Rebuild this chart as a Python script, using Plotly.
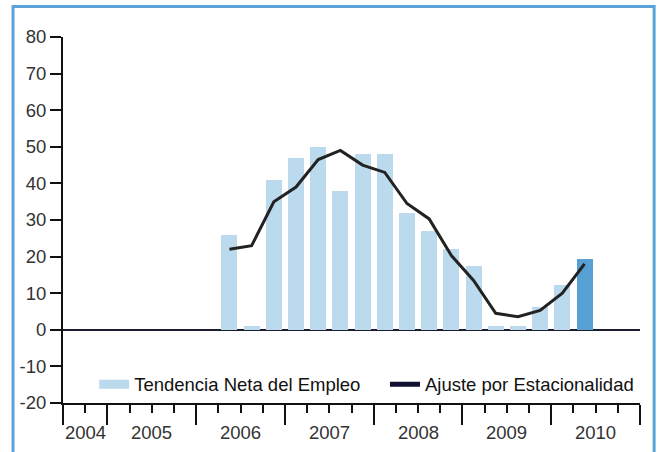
import plotly.graph_objects as go

# quarterly survey results, 2006 T2 .. 2010 T2
years = [2006, 2006, 2006,
         2007, 2007, 2007, 2007,
         2008, 2008, 2008, 2008,
         2009, 2009, 2009, 2009,
         2010, 2010]
quarters = [2, 3, 4,
            1, 2, 3, 4,
            1, 2, 3, 4,
            1, 2, 3, 4,
            1, 2]
tendencia = [26, 1, 41,
             47, 50, 38, 48,
             48, 32, 27, 22,
             17.5, 1, 1, 6.3,
             12.3, 19.4]
ajuste = [22, 23, 35,
          39, 46.5, 49, 45,
          43, 34.5, 30.3, 20.3,
          13.5, 4.5, 3.6, 5.3,
          10, 18]
year_labels = ["2004", "2005", "2006", "2007", "2008", "2009", "2010"]
y_ticks = [-20, -10, 0, 10, 20, 30, 40, 50, 60, 70, 80]
y_tick_text = ["-20", "-10", "0", "10", "20", "30", "40", "50", "60", "70", "80"]

FIRST_Q = 2004 * 4 + 2  # axis starts at 2004 T3


def qpos(y, q):
    # centre of a quarter on the axis, one unit per quarter
    return y * 4 + (q - 1) - FIRST_Q + 0.5


xs = [qpos(y, q) for y, q in zip(years, quarters)]
bar_colors = ["#bcdaee"] * (len(xs) - 1) + ["#56a0d4"]

# year boundaries and label centres
bounds = [0] + [(int(y) * 4) - FIRST_Q for y in year_labels[1:]] + [(2011 * 4) - FIRST_Q]
centres = [(a + b) / 2 for a, b in zip(bounds[:-1], bounds[1:])]

FONT = "Liberation Sans, Arial, sans-serif"
FS = 18.5

fig = go.Figure()
fig.add_trace(go.Bar(
    x=xs, y=tendencia, width=0.72,
    marker=dict(color=bar_colors, line=dict(width=0)),
    showlegend=False,
))
fig.add_trace(go.Scatter(
    x=xs, y=ajuste, mode="lines",
    line=dict(color="#222222", width=3),
    showlegend=False,
))
# legend swatches (flat block / thick line like the original), one legend each
fig.add_trace(go.Scatter(
    x=[None], y=[None], mode="lines",
    line=dict(color="#bcdaee", width=9),
    name="Tendencia Neta del Empleo", legend="legend",
))
fig.add_trace(go.Scatter(
    x=[None], y=[None], mode="lines",
    line=dict(color="#101030", width=5),
    name="Ajuste por Estacionalidad", legend="legend2",
))

for lab, c in zip(year_labels, centres):
    fig.add_annotation(
        x=c, y=0, xref="x", yref="paper", text=lab, showarrow=False,
        yanchor="middle", yshift=-29, font=dict(size=FS, color="#333333", family=FONT),
    )

# outer blue frame
fig.add_shape(
    type="rect", xref="paper", yref="paper",
    x0=-0.0866, x1=1.0245, y0=-0.3, y1=1.083,
    line=dict(color="#5ba3da", width=3),
)

leg = dict(
    orientation="h", y=0.05, xanchor="left", yanchor="middle",
    bgcolor="rgba(0,0,0,0)", font=dict(size=FS, color="#111111"),
    itemwidth=30,
)

fig.update_layout(
    width=659, height=452,
    margin=dict(l=63, r=19, t=37, b=49, autoexpand=False),
    paper_bgcolor="white", plot_bgcolor="white",
    font=dict(family=FONT, size=FS, color="#111111"),
    bargap=0,
    legend=dict(leg, x=0.054),
    legend2=dict(leg, x=0.558),
    xaxis=dict(
        range=[0, bounds[-1]], showgrid=False, zeroline=False,
        showline=True, linecolor="#111111", linewidth=2,
        tickvals=bounds, ticks="outside", ticklen=20, tickwidth=2, tickcolor="#111111",
        showticklabels=False,
        minor=dict(ticks="outside", dtick=1, tick0=0, ticklen=8, tickwidth=2, tickcolor="#111111"),
    ),
    yaxis=dict(
        range=[-20, 80], tickvals=y_ticks, ticktext=y_tick_text, showgrid=False,
        zeroline=True, zerolinecolor="#1c1c30", zerolinewidth=2,
        showline=True, linecolor="#111111", linewidth=2,
        ticks="outside", ticklen=11, tickwidth=2, tickcolor="#111111",
        tickfont=dict(size=FS, color="#333333"),
    ),
)

fig.write_html(
    "out.html",
    config={"displayModeBar": False},
    post_script="document.body.style.margin='0';document.body.style.overflow='hidden';",
)
